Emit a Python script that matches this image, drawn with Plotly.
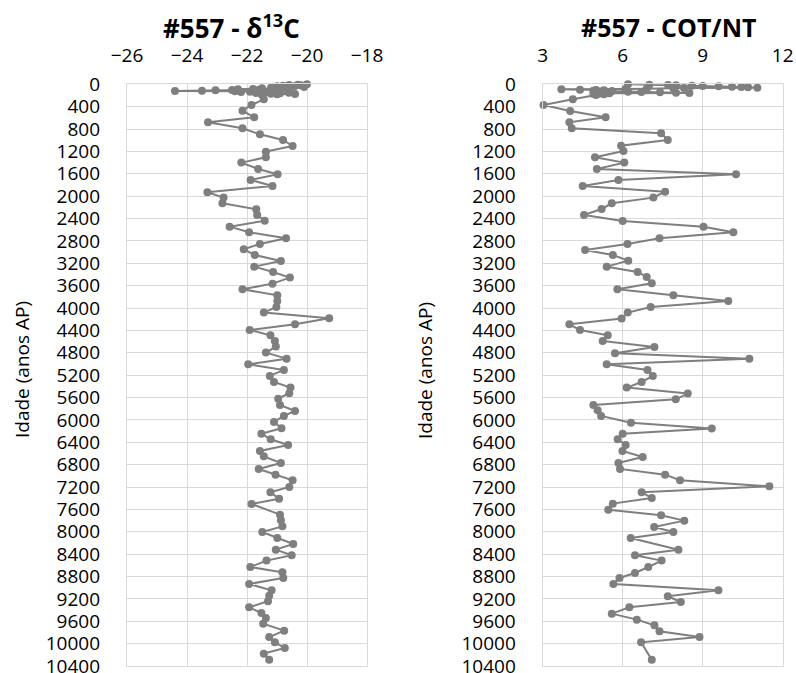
import plotly.graph_objects as go

# δ13C (‰) by age (anos AP)
d13c_age = [0, 6, 12, 18, 24, 30, 36, 42, 48, 54, 60, 66, 72, 78, 84, 90, 96, 102,
            108, 114, 120, 126, 132, 138, 144, 150, 156, 162, 168, 174, 180, 190,
            268, 370, 471, 590, 680, 787, 894, 995, 1103, 1204, 1305, 1400, 1514,
            1609, 1710, 1818, 1931, 2026, 2128, 2235, 2336, 2438, 2545, 2646, 2753,
            2855, 2950, 3051, 3159, 3260, 3355, 3456, 3564, 3665, 3772, 3873, 3981,
            4082, 4183, 4291, 4392, 4487, 4589, 4690, 4797, 4905, 5006, 5107, 5214,
            5322, 5423, 5524, 5620, 5733, 5840, 5930, 6037, 6150, 6246, 6347, 6448,
            6555, 6651, 6770, 6877, 6979, 7080, 7199, 7295, 7408, 7503, 7694, 7795,
            7903, 8004, 8111, 8218, 8320, 8421, 8516, 8630, 8725, 8826, 8934, 9047,
            9142, 9243, 9351, 9452, 9542, 9643, 9768, 9881, 9977, 10078, 10179, 10287]
d13c_val = [-20.0, -20.3, -20.6, -20.2, -20.8, -20.4, -21.0, -20.5, -20.1, -20.9,
            -21.2, -20.7, -21.5, -21.1, -21.8, -22.3, -21.6, -22.5, -23.05, -23.5,
            -24.4, -22.4, -21.9, -22.2, -21.3, -20.6, -21.7, -20.9, -21.2, -20.4,
            -21.0, -21.5,
            -21.44, -21.85, -22.15, -21.76, -23.3, -22.15, -21.57, -20.8, -20.48,
            -21.37, -21.37, -22.19, -21.63, -20.98, -21.88, -21.15, -23.32, -22.78,
            -22.82, -21.69, -21.66, -21.41, -22.58, -21.93, -20.7, -21.57, -22.11,
            -21.74, -20.87, -21.76, -21.13, -20.57, -21.15, -22.15, -20.99, -20.99,
            -21.02, -21.44, -19.26, -20.4, -21.91, -21.22, -21.07, -21.04, -21.37,
            -20.68, -21.96, -20.77, -21.24, -21.1, -20.55, -20.59, -20.96, -20.9,
            -20.4, -20.77, -21.1, -20.85, -21.52, -21.21, -20.63, -21.57, -21.44,
            -20.87, -21.61, -21.05, -20.48, -20.59, -21.22, -20.93, -21.85, -20.9,
            -20.87, -20.82, -21.49, -20.99, -20.46, -21.04, -20.51, -21.35, -21.89,
            -20.82, -20.79, -21.93, -21.18, -21.26, -21.3, -21.93, -21.52, -21.37,
            -21.46, -20.76, -21.26, -21.07, -20.74, -21.44, -21.26]

# COT/NT ratio by age (anos AP)
cn_age = [0, 6, 12, 18, 24, 30, 36, 42, 48, 54, 60, 66, 72, 78, 84, 90, 96, 102,
          108, 114, 120, 126, 132, 138, 144, 150, 156, 162, 168, 174, 180, 190,
          268, 370, 477, 590, 680, 787, 876, 995, 1097, 1192, 1305, 1400, 1514,
          1609, 1710, 1818, 1919, 2026, 2128, 2229, 2336, 2444, 2545, 2646, 2754,
          2855, 2962, 3051, 3153, 3260, 3355, 3444, 3558, 3665, 3772, 3873, 3981,
          4082, 4189, 4291, 4392, 4487, 4589, 4696, 4809, 4905, 5006, 5107, 5214,
          5322, 5423, 5530, 5632, 5733, 5828, 5930, 6049, 6156, 6246, 6347, 6448,
          6555, 6663, 6770, 6877, 6979, 7080, 7187, 7295, 7396, 7497, 7605, 7706,
          7801, 7914, 8004, 8111, 8320, 8421, 8516, 8630, 8737, 8826, 8934, 9047,
          9153, 9255, 9351, 9464, 9571, 9673, 9780, 9881, 9977, 10287]
cn_val = [6.2, 7.0, 7.7, 8.0, 8.6, 9.0, 9.6, 10.1, 10.45, 10.7, 11.05, 8.3, 7.9,
          6.9, 6.1, 3.7, 4.4, 5.0, 5.3, 4.9, 5.6, 5.2, 6.2, 6.7, 7.4, 8.0, 8.5,
          5.5, 5.1, 4.9, 5.3, 5.0,
          4.13, 3.03, 4.03, 5.36, 4.0, 4.09, 7.44, 7.69, 5.94, 6.03, 4.96, 6.06,
          5.03, 10.25, 5.84, 4.5, 7.59, 7.15, 5.59, 5.21, 4.55, 6.0, 9.03, 10.15,
          7.38, 6.18, 4.59, 5.63, 6.21, 5.4, 6.56, 6.9, 7.09, 5.8, 7.9, 9.96, 7.05,
          6.19, 5.96, 4.0, 4.4, 5.44, 5.25, 7.19, 5.71, 10.75, 5.4, 6.93, 7.13,
          6.71, 6.15, 8.44, 7.99, 4.9, 5.06, 5.19, 6.31, 9.34, 6.0, 5.81, 6.11,
          5.99, 6.75, 5.84, 5.9, 7.59, 8.15, 11.5, 6.71, 7.09, 5.63, 5.46, 7.44,
          8.31, 7.18, 7.9, 6.3, 8.09, 6.46, 7.46, 6.96, 6.46, 5.88, 5.65, 9.59,
          7.69, 8.18, 6.25, 5.59, 6.53, 7.19, 7.38, 8.88, 6.69, 7.09]

age_ticks = list(range(0, 10401, 400))

FONT = "Open Sans, Calibri, sans-serif"
GREY = "#7f7f7f"
GRID = "#d9d9d9"

fig = go.Figure()
fig.add_trace(go.Scatter(x=d13c_val, y=d13c_age, mode="lines+markers",
                         line=dict(color=GREY, width=2),
                         marker=dict(color=GREY, size=8),
                         xaxis="x", yaxis="y", showlegend=False, cliponaxis=False))
fig.add_trace(go.Scatter(x=cn_val, y=cn_age, mode="lines+markers",
                         line=dict(color=GREY, width=2),
                         marker=dict(color=GREY, size=8),
                         xaxis="x2", yaxis="y2", showlegend=False, cliponaxis=False))

W, H = 796, 673
top_px, bot_px = 84.3, 666
ydom = [1 - bot_px / H, 1 - top_px / H]
xdom1 = [127 / W, 367 / W]
xdom2 = [542.7 / W, 782.7 / W]

tickfont = dict(family=FONT, size=19, color="#000000")

def xaxis(dom, rng, dtick, anchor):
    return dict(domain=dom, range=rng, dtick=dtick, tick0=rng[0], side="top",
                showgrid=True, gridcolor=GRID, gridwidth=1.3,
                showline=True, linecolor=GRID, linewidth=1.3, mirror=True,
                zeroline=False, ticks="", ticklabelstandoff=14, automargin=False,
                ticklabeloverflow="allow",
                tickfont=tickfont, anchor=anchor, fixedrange=True)

def yaxis(anchor):
    return dict(domain=ydom, range=[10400, 0], tickmode="array",
                tickvals=age_ticks, ticktext=[str(t) for t in age_ticks],
                showgrid=True, gridcolor=GRID, gridwidth=1.3,
                showline=True, linecolor=GRID, linewidth=1.3, mirror=True,
                zeroline=False, ticks="", ticklabelstandoff=22, automargin=False,
                ticklabeloverflow="allow",
                tickfont=tickfont, anchor=anchor, fixedrange=True)

fig.update_layout(
    template="none",
    width=W, height=H, autosize=False,
    margin=dict(l=0, r=0, t=0, b=0, pad=0),
    paper_bgcolor="white", plot_bgcolor="white",
    xaxis=xaxis(xdom1, [-26, -18], 2, "y"),
    yaxis=yaxis("x"),
    xaxis2=xaxis(xdom2, [3, 12], 3, "y2"),
    yaxis2=yaxis("x2"),
    font=dict(family=FONT, color="#000000"),
)

# panel titles and age-axis labels
ann = [
    dict(text="<b>#557 - δ<sup>13</sup>C</b>", x=231 / W, y=1 - 27.5 / H,
         font=dict(family=FONT, size=26)),
    dict(text="<b>#557 - COT/NT</b>", x=669 / W, y=1 - 27.5 / H,
         font=dict(family=FONT, size=25)),
    dict(text="Idade (anos AP)", x=22 / W, y=1 - 370 / H, textangle=-90,
         font=dict(family=FONT, size=19)),
    dict(text="Idade (anos AP)", x=425 / W, y=1 - 370 / H, textangle=-90,
         font=dict(family=FONT, size=19)),
]
for a in ann:
    a.update(xref="paper", yref="paper", showarrow=False,
             xanchor="center", yanchor="middle")
fig.update_layout(annotations=ann)

fig.write_html("out.html")
